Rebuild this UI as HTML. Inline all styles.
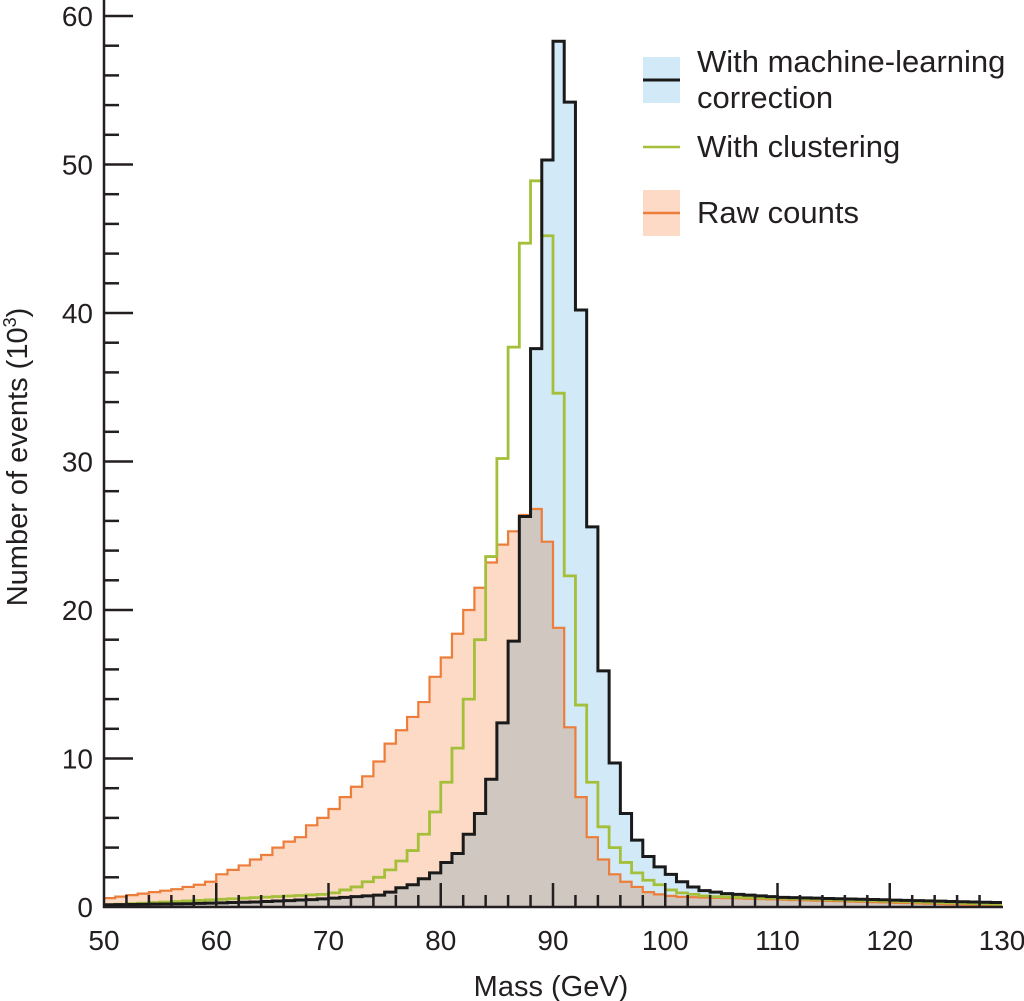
<!DOCTYPE html>
<html><head><meta charset="utf-8"><style>
html,body{margin:0;padding:0;background:#fff;}
svg{display:block;font-family:"Liberation Sans",Arial,sans-serif;}
</style></head><body>
<svg id="s" width="1024" height="1001" viewBox="0 0 1024 1001" xmlns="http://www.w3.org/2000/svg">
<g id="fills"></g>
<g id="lines"></g>
<g id="axes" stroke="#231f20" stroke-width="2.5"></g>
<g id="labels" fill="#231f20" font-size="28"></g>
<g font-size="31" fill="#231f20">
<rect x="643" y="57" width="37" height="46" fill="#d2e9f8"/>
<line x1="643" y1="80" x2="680" y2="80" stroke="#1a1a1a" stroke-width="3"/>
<text x="697" y="72">With machine-learning</text>
<text x="697" y="108">correction</text>
<line x1="643" y1="147" x2="680" y2="147" stroke="#a4c03a" stroke-width="2.5"/>
<text x="697" y="157">With clustering</text>
<rect x="643" y="190" width="37" height="46" fill="#fcdac6"/>
<line x1="643" y1="213" x2="680" y2="213" stroke="#ec7d3a" stroke-width="2.5"/>
<text x="697" y="223">Raw counts</text>
</g>
<text x="551" y="996" font-size="29" text-anchor="middle" fill="#231f20">Mass (GeV)</text>
<text transform="translate(27,457) rotate(-90)" font-size="29" text-anchor="middle" fill="#231f20">Number of events (10<tspan font-size="18" dy="-11">3</tspan><tspan dy="11">)</tspan></text>
</svg>
<script>
var NS="http://www.w3.org/2000/svg";
function X(m){return 104+(m-50)*11.225;}
function Y(v){return 907-v*14.85;}
function tail(a,b,n){var r=[];for(var i=0;i<n;i++)r.push(a+(b-a)*i/(n-1));return r;}
var black=[0.15,0.16,0.17,0.18,0.19,0.2,0.21,0.22,0.24,0.26,0.28,0.3,0.32,0.34,0.37,0.4,0.43,0.47,0.5,0.55,0.6,0.65,0.7,0.75,0.8,1.0,1.3,1.5,1.9,2.3,3.0,3.6,4.9,6.3,8.6,12.4,17.9,26.3,37.6,50.3,58.3,54.2,40.2,25.6,15.9,9.7,6.3,4.5,3.4,2.7,2.2,1.7,1.35,1.1,1.0,0.9,0.85,0.8,0.75,0.7].concat(tail(0.65,0.3,20));
var green=tail(0.15,0.85,20).concat([0.95,1.15,1.35,1.7,2.0,2.5,3.1,3.8,4.9,6.4,8.4,10.7,14.0,18.0,23.6,30.2,37.7,44.7,48.9,45.2,34.6,22.3,13.6,8.4,5.4,4.0,3.0,2.3,1.8,1.5,1.15,0.95,0.85,0.75]).concat(tail(0.7,0.2,26));
var orange=[0.6,0.7,0.8,0.9,1.0,1.1,1.2,1.35,1.5,1.7,2.2,2.5,2.8,3.2,3.5,4.0,4.4,4.7,5.5,6.0,6.6,7.4,8.1,8.8,9.8,11.0,11.9,12.8,13.8,15.5,16.8,18.4,20.0,21.5,23.2,24.4,25.3,26.4,26.8,24.6,18.8,12.1,7.4,4.7,3.2,2.2,1.7,1.35,1.0,0.85,0.75].concat(tail(0.68,0.1,29));
function step(d){var p="M"+X(50)+","+Y(d[0]);for(var i=0;i<d.length;i++){p+=" L"+X(50+i)+","+Y(d[i])+" L"+X(51+i)+","+Y(d[i]);}return p;}
function el(par,tag,at){var e=document.createElementNS(NS,tag);for(var k in at)e.setAttribute(k,at[k]);document.getElementById(par).appendChild(e);return e;}
el("fills","path",{d:step(black)+" L"+X(130)+",907 L"+X(50)+",907 Z",fill:"#d2e9f8"});
el("fills","path",{d:step(orange)+" L"+X(130)+",907 L"+X(50)+",907 Z",fill:"#fcdac6",style:"mix-blend-mode:multiply"});
el("lines","path",{d:step(orange),fill:"none",stroke:"#ec7d3a","stroke-width":2.2});
el("lines","path",{d:step(green),fill:"none",stroke:"#a4c03a","stroke-width":2.8});
el("lines","path",{d:step(black),fill:"none",stroke:"#1a1a1a","stroke-width":3});
el("axes","line",{x1:104,y1:0,x2:104,y2:908});
el("axes","line",{x1:103,y1:907,x2:1003,y2:907});
for(var v=0;v<=60;v+=2){var y=Y(v);var maj=v%10==0;if(v>0)el("axes","line",{x1:104,y1:y,x2:maj?133:119,y2:y});
 if(maj){var t=el("labels","text",{x:93,y:y+10,"text-anchor":"end"});t.textContent=v;}}
for(var m=50;m<=130;m+=2){var x=X(m);var maj=m%10==0;if(m>50&&m<130)el("axes","line",{x1:x,y1:907,x2:x,y2:maj?883:895});
 if(maj){var t=el("labels","text",{x:x,y:950,"text-anchor":"middle"});t.textContent=m;}}
</script>
</body></html>
